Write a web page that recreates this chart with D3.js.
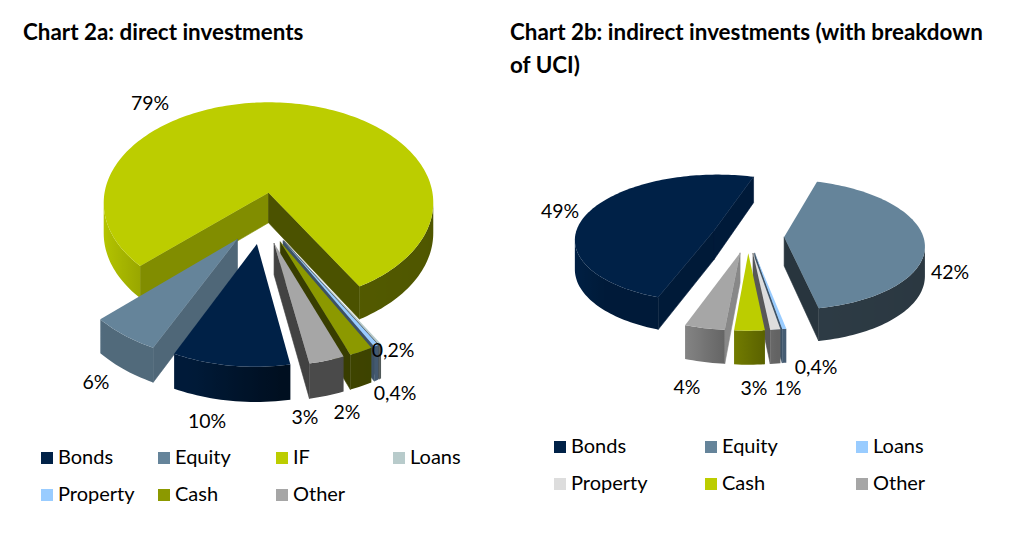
<!DOCTYPE html>
<html>
<head>
<meta charset="utf-8">
<script src="https://d3js.org/d3.v7.min.js"></script>
<style>
  html, body { margin: 0; padding: 0; background: #fff; }
  text { font-family: Lato, "Open Sans", sans-serif; fill: #000; }
</style>
</head>
<body>
<svg id="chart" width="1016" height="533"></svg>
<script>
// chart 2a
var categoriesA = ['Bonds', 'Equity', 'IF', 'Loans', 'Property', 'Cash', 'Other'];
var valuesA = [10, 6, 79, 0.2, 0.4, 2, 3];
var coloursA = ['#002147', '#65849a', '#bccd00', '#b8cbcb', '#99ccff', '#8c9900', '#a6a6a6'];
var labelSpotsA = [[207, 421], [96, 382], [150, 103], [393, 350], [395, 393], [347, 412], [305, 417]];

// chart 2b
var categoriesB = ['Bonds', 'Equity', 'Loans', 'Property', 'Cash', 'Other'];
var valuesB = [49, 42, 0.4, 1, 3, 4];
var coloursB = ['#002147', '#65849a', '#99ccff', '#dddddd', '#bccd00', '#a6a6a6'];
var labelSpotsB = [[560, 211], [950, 272], [816, 367], [788, 388], [754, 388], [687, 387]];

var svg = d3.select('#chart');
var defs = svg.append('defs');
var rad = Math.PI / 180;
var gradientCount = 0;

// outer wall is lit from the left, by the x part of its normal
var wallShade = d3.scaleLinear()
  .domain([-1, -0.7, -0.34, -0.08, 0.14, 1])
  .range([0.97, 0.8, 0.8, 0.6, 0.45, 0.42]);

// cut faces, by the direction (degrees) they point at
var cutShade = d3.scaleLinear()
  .domain([0, 90, 120, 140, 180, 240, 360])
  .range([0.4, 0.83, 0.77, 0.67, 0.5, 0.4, 0.4]);

function darker(colour, f) {
  var c = d3.rgb(colour);
  return d3.rgb(c.r * f, c.g * f, c.b * f).formatHex();
}

function polygon(g, points, fill, stroked) {
  g.append('path')
    .attr('d', d3.line()(points) + 'Z')
    .attr('fill', fill)
    .attr('stroke', stroked ? fill : 'none')
    .attr('stroke-width', stroked ? 0.6 : 0);
}

// one run of outer wall, shaded by a left to right gradient
function wallRun(g, d, run) {
  var tops = run.map(function(t) { return d.at(1, t, 0); });
  var lows = run.map(function(t) { return d.at(1, t, 1); });
  var xMin = tops[tops.length - 1][0];
  var xMax = tops[0][0];
  var id = 'wall' + (gradientCount++);
  var grad = defs.append('linearGradient')
    .attr('id', id)
    .attr('gradientUnits', 'userSpaceOnUse')
    .attr('x1', xMin).attr('x2', xMax)
    .attr('y1', 0).attr('y2', 0);
  run.slice().reverse().forEach(function(t, i) {
    var x = tops[run.length - 1 - i][0];
    grad.append('stop')
      .attr('offset', (x - xMin) / (xMax - xMin || 1))
      .attr('stop-color', darker(d.colour, wallShade(Math.sin(t))));
  });
  polygon(g, tops.concat(lows.reverse()), 'url(#' + id + ')');
}

function drawPie(values, colours, o) {
  var pie = d3.pie().sort(null).startAngle(o.start * rad).endAngle((o.start + 360) * rad);
  var arcs = pie(values);

  function project(u, v, z) {
    var s = 1 / (1 - o.persp * v);
    return [o.x + o.radius * u * s, o.y + o.flat * v * s + o.depth * z * s];
  }

  var slices = arcs.map(function(d) {
    var mid = (d.startAngle + d.endAngle) / 2;
    var cu = o.cu + o.explode * Math.sin(mid);
    var cv = o.cv - o.explode * Math.cos(mid);
    return {
      colour: colours[d.index],
      a0: d.startAngle,
      a1: d.endAngle,
      cv: cv,
      at: function(r, a, z) {
        return project(cu + r * Math.sin(a), cv - r * Math.cos(a), z);
      }
    };
  });

  slices.sort(function(a, b) { return a.cv - b.cv; });

  var g = svg.append('g');
  slices.forEach(function(d) {
    var steps = Math.max(2, Math.ceil((d.a1 - d.a0) / (1.5 * rad)));
    var angles = d3.range(steps + 1).map(function(i) { return d.a0 + (d.a1 - d.a0) * i / steps; });

    var apex = d.at(0, 0, 0);
    var apexLow = d.at(0, 0, 1);

    // start cut
    var p0 = d.at(1, d.a0, 0);
    if (p0[0] < apex[0]) {
      polygon(g, [apex, p0, d.at(1, d.a0, 1), apexLow],
        darker(d.colour, cutShade((d.a0 / rad - 90 + 360) % 360)), true);
    }
    // end cut
    var p1 = d.at(1, d.a1, 0);
    if (p1[0] > apex[0]) {
      polygon(g, [p1, apex, apexLow, d.at(1, d.a1, 1)],
        darker(d.colour, cutShade((d.a1 / rad + 90) % 360)), true);
    }
    // outer wall, only where it faces the viewer
    var run = [];
    for (var i = 0; i < steps; i++) {
      var facing = d.at(1, angles[i + 1], 0)[0] < d.at(1, angles[i], 0)[0];
      if (facing) {
        if (!run.length) run.push(angles[i]);
        run.push(angles[i + 1]);
      } else if (run.length) {
        wallRun(g, d, run);
        run = [];
      }
    }
    if (run.length) wallRun(g, d, run);
    // top
    var top = [apex].concat(angles.map(function(t) { return d.at(1, t, 0); }));
    polygon(g, top, d.colour);
  });
}

function percent(v) {
  return String(v).replace('.', ',') + '%';
}

function drawLabels(values, spots) {
  svg.append('g').selectAll('text')
    .data(values)
    .enter().append('text')
      .attr('x', function(d, i) { return spots[i][0]; })
      .attr('y', function(d, i) { return spots[i][1] + 7; })
      .attr('text-anchor', 'middle')
      .attr('font-size', 19.5)
      .text(percent);
}

function drawLegend(names, colours, cols, rows) {
  var perRow = cols.length;
  var g = svg.append('g').selectAll('g')
    .data(names)
    .enter().append('g')
      .attr('transform', function(d, i) {
        return 'translate(' + cols[i % perRow] + ',' + rows[Math.floor(i / perRow)] + ')';
      });
  g.append('rect')
    .attr('width', 12)
    .attr('height', 12)
    .attr('fill', function(d, i) { return colours[i]; });
  g.append('text')
    .attr('x', 17)
    .attr('y', 12)
    .attr('font-size', 20)
    .text(function(d) { return d; });
}

function title(x, y, words) {
  svg.append('text')
    .attr('x', x)
    .attr('y', y)
    .attr('font-size', 22.4)
    .attr('font-weight', 'bold')
    .text(words);
}

title(23, 40, 'Chart 2a: direct investments');
title(510, 40, 'Chart 2b: indirect investments (with breakdown');
title(510, 73, 'of UCI)');

drawPie(valuesA, coloursA, {
  x: 270.5, y: 193, radius: 164, flat: 99.5, persp: 0.1, depth: 30,
  explode: 0.247, cu: -0.047, cv: 0.242, start: 169.5
});
drawPie(valuesB, coloursB, {
  x: 748, y: 236, radius: 139, flat: 64, persp: 0.1176, depth: 29,
  explode: 0.26, cu: 0, cv: 0, start: 199.5
});

drawLabels(valuesA, labelSpotsA);
drawLabels(valuesB, labelSpotsB);

drawLegend(categoriesA, coloursA, [41, 158, 276, 393], [452, 489]);
drawLegend(categoriesB, coloursB, [554, 705, 856], [441, 478]);
</script>
</body>
</html>
